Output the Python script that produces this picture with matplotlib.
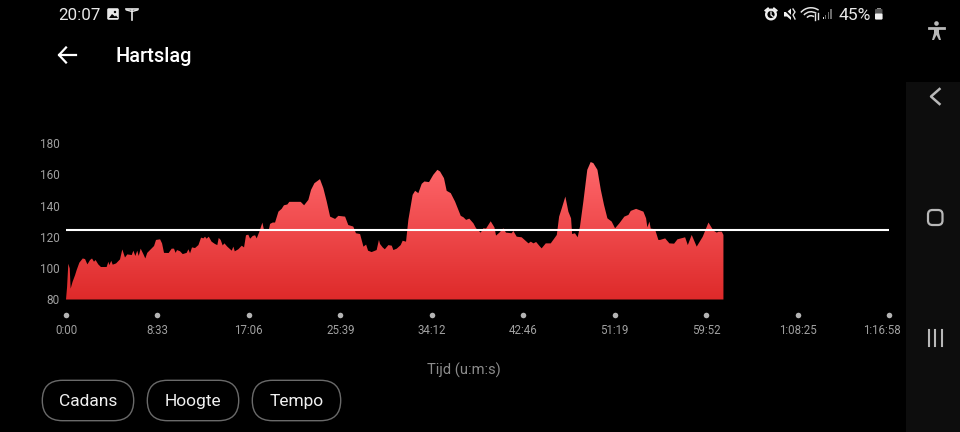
import numpy as np
import matplotlib
matplotlib.use("Agg")
import matplotlib.pyplot as plt
from matplotlib.patches import FancyBboxPatch, Circle, Rectangle, Polygon, Wedge
from matplotlib.transforms import ScaledTranslation

plt.rcParams['font.family'] = ['Roboto', 'DejaVu Sans']

# heart rate trace: seconds, bpm
tijd = [0, 6, 13, 21, 26, 37, 51, 60, 75, 94, 107, 120, 135, 146, 157, 166, 181, 196, 228, 238,
        243, 254, 262, 281, 303, 316, 331, 344, 369, 378, 389, 400, 408, 419, 434, 445, 456, 481, 494, 505,
        528, 539, 550, 576, 593, 606, 615, 623, 640, 655, 677, 687, 696, 707, 724, 743, 758, 771, 780, 789,
        801, 817, 836, 849, 857, 868, 879, 889, 905, 930, 939, 947, 967, 986, 999, 1010, 1023, 1033, 1048, 1061,
        1070, 1085, 1102, 1111, 1139, 1145, 1160, 1173, 1192, 1210, 1223, 1242, 1253, 1317, 1336, 1360, 1375, 1394, 1425, 1444,
        1463, 1482, 1510, 1528, 1566, 1584, 1612, 1627, 1650, 1669, 1684, 1695, 1715, 1743, 1756, 1762, 1777, 1789, 1809, 1828,
        1837, 1856, 1878, 1889, 1908, 1921, 1945, 1959, 1977, 1996, 2011, 2037, 2061, 2084, 2099, 2121, 2136, 2159, 2183, 2215,
        2230, 2245, 2263, 2286, 2301, 2327, 2342, 2357, 2383, 2404, 2413, 2432, 2454, 2469, 2501, 2510, 2529, 2557, 2595, 2608,
        2623, 2638, 2660, 2669, 2692, 2720, 2754, 2767, 2782, 2802, 2819, 2834, 2840, 2856, 2871, 2884, 2903, 2925, 2944, 2959,
        2982, 3001, 3019, 3038, 3062, 3081, 3105, 3133, 3156, 3169, 3199, 3240, 3255, 3262, 3274, 3281, 3305, 3324, 3333, 3362,
        3386, 3412, 3431, 3474, 3489, 3511, 3539, 3573, 3605, 3633, 3652, 3661, 3680, 3689]
hartslag = [80, 88, 103, 100, 87, 91.4, 95.7, 99, 103.7, 106.4, 106, 102.6, 105.4, 106.4, 104.3, 105.4, 102.6, 100.9, 100.9, 104.3,
            102.1, 104.9, 102.4, 103.2, 105.8, 112.2, 107, 109, 108.6, 111.4, 108, 111.4, 108, 112.7, 109.2, 106.4, 110, 112.9, 114.4, 118.3,
            118.7, 116.1, 110, 109.9, 112.7, 112.7, 110, 111.8, 111, 109.2, 110, 112.3, 109.7, 113.5, 113.1, 115, 119.8, 119.3, 120.4, 119.1,
            120.4, 117.2, 115.7, 115, 119.6, 118.3, 114.8, 116.1, 114, 111.4, 114, 111, 112.3, 114.6, 113.5, 121.3, 121.7, 119.1, 120.9, 121.3,
            119.3, 123.6, 129.5, 124.7, 125.2, 128.6, 129.5, 129.5, 136.5, 138.3, 140.6, 141.1, 142.8, 142.8, 140.6, 144.1, 150.5, 154.8, 157.4, 151.6,
            143, 133.3, 131.8, 133.8, 133.3, 127.9, 126.9, 122.6, 122.1, 114, 115.3, 111.4, 110.5, 111.8, 118.3, 115.7, 113.5, 112.3, 115, 114.6,
            111.8, 112.7, 115, 117.8, 117.2, 131.2, 147.3, 149.9, 148.4, 154.4, 155.9, 155.5, 160.2, 163.4, 162.3, 158, 149.9, 148.4, 143, 133.8,
            132.9, 131.2, 132, 129, 125.8, 123, 125.8, 125.6, 130.3, 126.4, 121.1, 123, 125.8, 123, 122.6, 124.1, 120.4, 120, 116.1, 117.2,
            116.1, 117, 114, 112.9, 116.1, 116.1, 121.5, 133.3, 138.7, 146.2, 136.5, 132.2, 122.1, 122.6, 120, 126.9, 143, 163.4, 168.4, 167.7,
            163.4, 150.5, 140.8, 132.2, 130.1, 125.8, 129, 133.3, 134.4, 137, 138.3, 136.5, 132.2, 126.4, 130.1, 125.6, 125.2, 118.3, 118.3, 119.3,
            116.1, 115.9, 118.7, 120, 115, 121.5, 114, 120.4, 129.5, 124.3, 123, 123.6, 123.6, 121.5]
gemiddeld = 124.9

x_ticks = [0, 513, 1026, 1539, 2052, 2566, 3079, 3592, 4105, 4618]
x_labels = ["0:00", "8:33", "17:06", "25:39", "34:12", "42:46", "51:19", "59:52", "1:08:25", "1:16:58"]
y_ticks = [80, 100, 120, 140, 160, 180]
knoppen = [("Cadans", 42, 134), ("Hoogte", 147, 239), ("Tempo", 252, 341)]

W, H = 960, 432
fig = plt.figure(figsize=(9.6, 4.32), dpi=100, facecolor="black")
ax = fig.add_axes([66 / W, 1 - 299.5 / H, (889 - 66) / W, 155.5 / H], facecolor="black")

# red fill with vertical gradient
poly = ax.fill_between(tijd, 80, hartslag, color="none", lw=0)
grad = np.linspace(0, 1, 256)[:, None, None] * np.array([255 - 222, 104 - 42, 108 - 42]) + np.array([222, 42, 42])
im = ax.imshow(grad.astype(np.uint8), origin="lower", aspect="auto", extent=[0, 4618, 80, 168.5], zorder=2)
im.set_clip_path(poly.get_paths()[0], transform=ax.transData)

ax.plot([0, 4618], [gemiddeld, gemiddeld], color="white", lw=1.5, zorder=3, solid_capstyle="butt")
ax.plot(x_ticks, [70] * len(x_ticks), "o", color="#b4b4b4", ms=4, clip_on=False, mec="none")

ax.set_xlim(0, 4618)
ax.set_ylim(80, 180)
ax.set_xticks(x_ticks)
ax.set_xticklabels(x_labels)
ax.set_yticks(y_ticks)
ax.tick_params(axis="x", length=0, pad=18, labelsize=8.3, colors="#a0a0a0")
ax.tick_params(axis="y", length=0, pad=4.5, labelsize=8.5, colors="#a0a0a0")
for s in ax.spines.values():
    s.set_visible(False)

# the app keeps the last label inside the chart width
laatste = ax.get_xticklabels()[-1]
laatste.set_transform(laatste.get_transform() + ScaledTranslation(-5 / 72, 0, fig.dpi_scale_trans))
# y labels sit a touch higher than the grid value
for lab in ax.get_yticklabels():
    lab.set_transform(lab.get_transform() + ScaledTranslation(0, 0.5 / 72, fig.dpi_scale_trans))

# phone UI around the chart, in screen pixels
ui = fig.add_axes([0, 0, 1, 1], facecolor="none", zorder=5)
ui.set_xlim(0, W)
ui.set_ylim(H, 0)
ui.axis("off")

ui.add_patch(Rectangle((906, 82), 54, 350, color="#0d0d0d", lw=0, zorder=0))

ui.text(79, 15, "20:07", color="#e8e8e8", fontsize=12.2, ha="center", va="center")
ui.text(855, 15, "45%", color="#e8e8e8", fontsize=12.6, ha="center", va="center")
ui.text(115.5, 56.5, "Hartslag", color="white", fontsize=14.4, fontweight="medium", ha="left", va="center")
ui.text(463.5, 370.5, "Tijd (u:m:s)", color="#8c8c8c", fontsize=10.6, ha="center", va="center")

# back arrow
ui.plot([76, 59], [55, 55], color="white", lw=1.6)
ui.plot([66, 59, 66], [47.5, 55, 62.5], color="white", lw=1.6)

# filter buttons
for naam, x0, x1 in knoppen:
    ui.add_patch(FancyBboxPatch((x0 + 20.5, 400.5), x1 - x0 - 41, 0, boxstyle="round,pad=20.2,rounding_size=20.2",
                                fc="black", ec="#6a6a6a", lw=1, mutation_aspect=1))
    ui.text((x0 + x1) / 2, 401.5, naam, color="#f0f0f0", fontsize=12.5, ha="center", va="center")

# status icons left
ui.add_patch(FancyBboxPatch((108, 9), 10, 10, boxstyle="round,pad=0.8,rounding_size=1.5", fc="#e8e8e8", ec="none"))
ui.add_patch(Polygon([[109, 18], [112, 14], [115, 16.5], [116, 15.5], [118, 18]], color="black", lw=0))
ui.add_patch(Circle((115, 12), 1.2, color="black", lw=0))
ui.plot([126, 138], [8.5, 8.5], color="#e8e8e8", lw=1.2)
ui.plot([132, 132], [10, 20], color="#e8e8e8", lw=1.2)
ui.plot([126.5, 132, 137.5], [10, 11.5, 10], color="#e8e8e8", lw=1)

# status icons right
ui.add_patch(Circle((771, 14.5), 4.8, fc="none", ec="#f0f0f0", lw=1.7))
ui.plot([771, 771, 773], [12, 15, 16.5], color="#f0f0f0", lw=0.9)
ui.plot([765.5, 768], [10.5, 8.5], color="#f0f0f0", lw=1.5)
ui.plot([774, 776.5], [8.5, 10.5], color="#f0f0f0", lw=1.5)
ui.add_patch(Polygon([[784, 12], [787, 12], [791, 8.5], [791, 20], [787, 16.5], [784, 16.5]], color="#f0f0f0", lw=0))
ui.plot([784, 794], [9, 19], color="black", lw=1.2)
ui.plot([793, 795, 793, 795], [9, 12, 15, 19], color="#e0e0e0", lw=1)
for r in [14, 10, 6]:
    ui.add_patch(Wedge((811, 21), r, 220, 305, width=1.5, color="#e4e4e4", lw=0))
ui.plot([815, 815], [14, 20], color="#e4e4e4", lw=1)
ui.plot([817.5, 817.5], [13, 19], color="#e4e4e4", lw=1)
for i, h in enumerate([2, 4, 7, 10]):
    ui.add_patch(Rectangle((822.5 + i * 2.6, 19 - h), 1.3, h, color="#e0e0e0" if i == 0 else "#6a6a6a", lw=0))
ui.add_patch(FancyBboxPatch((875.5, 9.5), 6.5, 9.5, boxstyle="round,pad=0.5,rounding_size=1", fc="#555555", ec="none"))
ui.add_patch(FancyBboxPatch((875.5, 14), 6.5, 5, boxstyle="round,pad=0.5,rounding_size=1", fc="#f0f0f0", ec="none"))
ui.add_patch(Rectangle((877, 7.5), 3.5, 1.5, color="#8a8a8a", lw=0))

# accessibility + nav buttons
nav = "#b8b8b8"
ui.add_patch(Circle((936.5, 23.5), 2.3, color=nav, lw=0))
ui.plot([929, 944], [28, 28], color=nav, lw=2)
ui.add_patch(Polygon([[934, 28], [939, 28], [939, 33], [941, 40], [939, 40], [936.5, 35], [934, 40], [932, 40], [934, 33]], color=nav, lw=0))
ui.plot([939.5, 931, 939.5], [89, 96.5, 104], color=nav, lw=1.8)
ui.add_patch(FancyBboxPatch((930, 212), 10.5, 11, boxstyle="round,pad=2,rounding_size=4.5", fc="none", ec=nav, lw=1.6))
for x in [928.5, 935, 941.5]:
    ui.plot([x, x], [330, 346], color=nav, lw=1.5)

fig.savefig("out.png", dpi=100, facecolor="black")
